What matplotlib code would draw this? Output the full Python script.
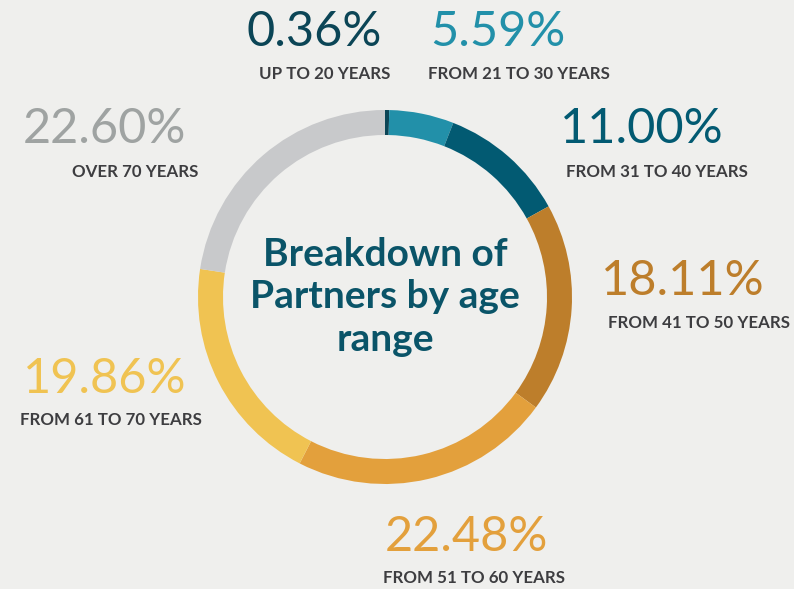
import matplotlib
matplotlib.use("Agg")
import matplotlib.pyplot as plt

# Share of partners by age range (percent)
categories = ["UP TO 20 YEARS", "FROM 21 TO 30 YEARS", "FROM 31 TO 40 YEARS",
              "FROM 41 TO 50 YEARS", "FROM 51 TO 60 YEARS", "FROM 61 TO 70 YEARS",
              "OVER 70 YEARS"]
shares = [0.36, 5.59, 11.00, 18.11, 22.48, 19.86, 22.60]
colors = ["#0b4556", "#2290a9", "#025a72", "#bd7e2b", "#e3a03c", "#f0c352", "#c8c9cb"]
value_colors = ["#0b4556", "#2290a9", "#025a72", "#bd7e2b", "#e3a03c", "#f0c352", "#9fa3a2"]
title = "Breakdown of\nPartners by age\nrange"

# Label anchor points in pixel space (x, y from top): percent value and caption
value_pos = [(314, 32), (498, 32), (642, 129), (683, 281), (466, 537), (105, 379), (104, 129)]
caption_pos = [(325, 74), (519, 74), (657, 172), (699, 323), (474, 578), (111, 420), (135, 172)]

W, H = 794, 589
bg = "#efefed"
fig = plt.figure(figsize=(W / 100, H / 100), dpi=100, facecolor=bg)
ax = fig.add_axes([0, 0, 1, 1])
ax.set_facecolor(bg)

cx, cy, r = 385, H - 297, 187
ax.pie(shares, colors=colors, startangle=90, counterclock=False,
       center=(cx, cy), radius=r, frame=True,
       wedgeprops=dict(width=25, linewidth=0))
ax.set_xlim(0, W)
ax.set_ylim(0, H)
ax.set_aspect("equal")
ax.axis("off")

for val, cat, col, vp, cp in zip(shares, categories, value_colors, value_pos, caption_pos):
    ax.text(vp[0], H - vp[1], f"{val:.2f}%", color=col,
            fontsize=35, fontfamily="Lato", fontweight="normal",
            ha="center", va="center")
    ax.text(cp[0], H - cp[1], cat, color="#3d3d40", fontsize=12.2,
            fontfamily="Lato", fontweight="bold", ha="center", va="center")

ax.text(cx, cy, title, color="#0a5468", fontsize=28, fontfamily="Lato",
        fontweight="bold", ha="center", va="center", linespacing=1.25)

fig.savefig("out.png", dpi=100, facecolor=bg)
